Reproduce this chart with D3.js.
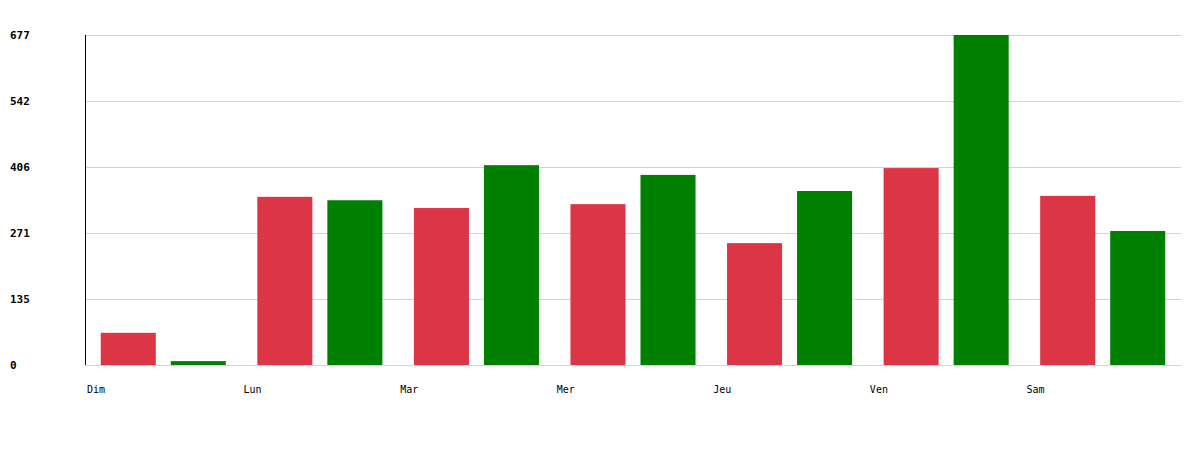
<!DOCTYPE html>
<html><head><meta charset="utf-8">
<script src="https://cdn.jsdelivr.net/npm/d3@7"></script>
<style>body{margin:0;background:#fff}</style>
</head><body>
<svg id="c" width="1200" height="450"></svg>
<script>
const days = ["Dim","Lun","Mar","Mer","Jeu","Ven","Sam"];
const seriesKeys = ["rouge","vert"];
const redValues = [66, 345, 322, 330, 250, 404, 347];
const greenValues = [8, 338, 410, 390, 357, 677, 275];
const yMax = 677;
const yTickValues = [0, 135.4, 270.8, 406.2, 541.6, 677];
const colors = {rouge:"#dc3545", vert:"#008000"};

(function(){
const svg = d3.select("#c");
const mL = 85, mR = 1181, mT = 35, mB = 365;
const x0 = d3.scaleBand().domain(days).range([mL, mR]).padding(0);
const x1 = d3.scaleBand().domain(seriesKeys).range([0, x0.bandwidth()]).paddingInner(0.214).paddingOuter(0.225);
const y = d3.scaleLinear().domain([0, yMax]).range([mB, mT]);

const data = days.map((d,i)=>({day:d, rouge:redValues[i], vert:greenValues[i]}));

// grid
const grid = svg.append("g").attr("transform",`translate(${mL},0)`)
  .call(d3.axisLeft(y).tickValues(yTickValues).tickSize(-(mR-mL)).tickFormat(""));
grid.selectAll("line").attr("stroke","#d3d3d3");
grid.select(".domain").remove();

// y labels
const yl = svg.append("g").attr("transform",`translate(10,0)`)
  .call(d3.axisRight(y).tickValues(yTickValues).tickSize(0).tickPadding(0).tickFormat(d=>Math.round(d)));
yl.select(".domain").remove();
yl.selectAll("text").attr("font-family","DejaVu Sans Mono").attr("font-weight","bold").attr("font-size","11px").attr("fill","#000").attr("dy","0.3em");

// bars
const g = svg.append("g");
data.forEach(d=>{
  seriesKeys.forEach(k=>{
    g.append("rect")
      .attr("x", x0(d.day)+x1(k))
      .attr("width", x1.bandwidth())
      .attr("y", y(d[k]))
      .attr("height", y(0)-y(d[k]))
      .attr("fill", colors[k]);
  });
});

// left axis line
svg.append("line").attr("x1",mL+0.5).attr("x2",mL+0.5).attr("y1",mT).attr("y2",mB).attr("stroke","#000");

// x labels
const xl = svg.append("g").attr("transform",`translate(0,${mB})`)
  .call(d3.axisBottom(x0).tickSize(0).tickPadding(0));
xl.select(".domain").remove();
xl.selectAll(".tick").attr("transform", d=>`translate(${x0(d)+2},0)`);
xl.selectAll("text").attr("text-anchor","start").attr("y",25).attr("dy","0.32em")
  .attr("font-family","DejaVu Sans Mono").attr("font-size","10px").attr("fill","#000");
})();
</script>
</body></html>
